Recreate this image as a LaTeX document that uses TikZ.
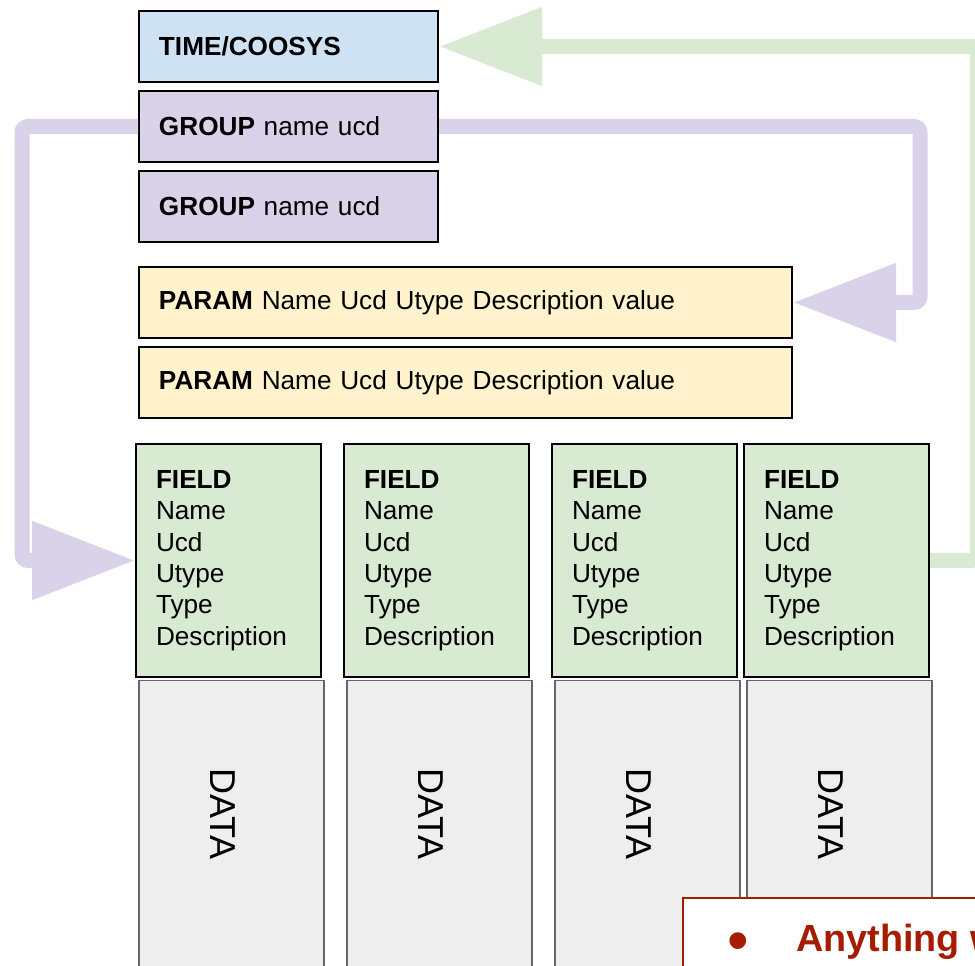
\documentclass[tikz,border=0pt]{standalone}
\usepackage{fontspec}
\setmainfont{Liberation Sans}
\usetikzlibrary{arrows.meta}

\definecolor{timeblue}{HTML}{CFE2F3}
\definecolor{grouppurple}{HTML}{D9D2E9}
\definecolor{paramyellow}{HTML}{FFF2CC}
\definecolor{fieldgreen}{HTML}{D9EAD3}
\definecolor{datagrey}{HTML}{EEEEEE}
\definecolor{notered}{HTML}{A61C00}

\begin{document}
\begin{tikzpicture}[
    box/.style={draw=black, line width=0.04cm, anchor=north west, inner xsep=0.4cm,
                align=left, font=\fontsize{14.9}{17.9}\selectfont},
    shortbox/.style={box, minimum height=1.42cm, text width=5.18cm},
    parambox/.style={box, fill=paramyellow, minimum height=1.42cm, text width=12.26cm},
    fieldbox/.style={box, fill=fieldgreen, minimum height=4.66cm, text width=2.9cm},
    databox/.style={draw=black!60, line width=0.03cm, fill=datagrey, anchor=north west,
                    minimum width=3.7cm, minimum height=6.4cm},
    datalabel/.style={rotate=-90, font=\fontsize{20.5}{24}\selectfont},
    link/.style={line width=0.3cm, rounded corners=0.12cm,
                 -{Triangle[length=2.06cm, width=1.5cm]}}
]

\useasboundingbox (0,0) rectangle (19.5,-19.32);
\clip (0,0) rectangle (19.5,-19.32);

\node[shortbox, fill=timeblue]    (time)   at (2.76,-0.20) {\textbf{TIME/COOSYS}};
\node[shortbox, fill=grouppurple] (group1) at (2.76,-1.80) {\textbf{GROUP} name ucd};
\node[shortbox, fill=grouppurple] (group2) at (2.76,-3.40) {\textbf{GROUP} name ucd};

\node[parambox] (param1) at (2.76,-5.32) {\textbf{PARAM} Name Ucd Utype Description value};
\node[parambox] (param2) at (2.76,-6.92) {\textbf{PARAM} Name Ucd Utype Description value};

\foreach \i/\x in {1/2.70, 2/6.86, 3/11.02, 4/14.86}
{
    \node[fieldbox] (field\i) at (\x,-8.86)
        {\textbf{FIELD}\\Name\\Ucd\\Utype\\Type\\Description};
    \node[databox] (data\i) at (\x+0.06,-13.60) {};
    \node[datalabel] (datatext\i) at (\x+1.76,-16.28) {DATA};
}

% links
\coordinate (pl) at (0.44,0);
\coordinate (pr) at (18.40,0);
\coordinate (gr) at (19.55,0);

\draw[link, grouppurple] (group1.west) -| (pl |- field1.west) -- (field1.west);
\draw[link, grouppurple] (group1.east) -| (pr |- param1.east) -- (param1.east);
\draw[link, fieldgreen]  (field4.east) -| (gr |- time.east) -- (time.east);

% note
\node[draw=notered, line width=0.04cm, fill=white, anchor=north west,
      minimum width=7cm, minimum height=2cm] (note) at (13.64,-17.94) {};
\node[text=notered, font=\fontsize{35}{40}\selectfont, anchor=base] (bullet) at (14.76,-19.22) {\textbullet};
\node[text=notered, font=\fontsize{21.5}{26}\bfseries, anchor=base west, inner sep=0pt]
    (anything) at (15.92,-19.04) {Anything w};

\end{tikzpicture}
\end{document}
